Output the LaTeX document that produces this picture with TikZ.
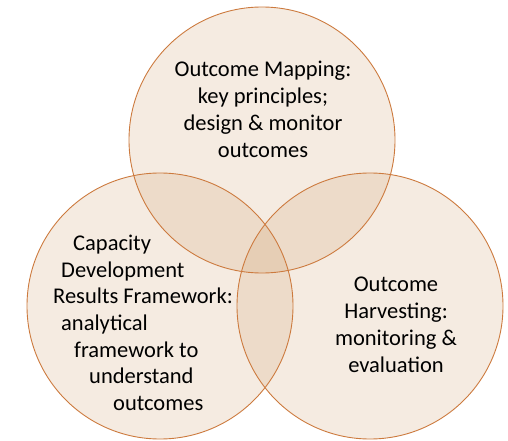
\documentclass[tikz,border=0pt]{standalone}
\usepackage{fontspec}
\setmainfont{Carlito}
\definecolor{vennfill}{RGB}{205,155,105}
\definecolor{vennline}{RGB}{204,122,62}
\begin{document}
\begin{tikzpicture}[x=1pt,y=-1pt,
    disc/.style={fill=vennfill, fill opacity=0.2},
    rim/.style={draw=vennline, line width=0.9pt},
    txt/.style={font=\fontsize{22.5}{27}\selectfont, align=center, inner sep=0pt},
    ltxt/.style={font=\fontsize{22.5}{27}\selectfont, anchor=base west, inner sep=0pt}]
    \useasboundingbox (0,0) rectangle (508,441);
    \fill[disc] (262,140) circle (133); %Cercle haut
    \fill[disc] (160,306) circle (133); %Cercle gauche
    \fill[disc] (370,306) circle (133); %Cercle droit
    \draw[rim] (262,140) circle (133);
    \draw[rim] (160,306) circle (133);
    \draw[rim] (370,306) circle (133);
    \node[txt] (mapping) at (263,109) {Outcome Mapping:\\key principles;\\design \& monitor\\outcomes};
    \node[txt] (harvest) at (396,325) {Outcome\\Harvesting:\\monitoring \&\\evaluation};
    \node[ltxt] (cap1) at (73,250) {Capacity};
    \node[ltxt] (cap2) at (61,277) {Development};
    \node[ltxt] (cap3) at (53,303) {Results Framework:};
    \node[ltxt] (cap4) at (61,330) {analytical};
    \node[ltxt] (cap5) at (74,357) {framework to};
    \node[ltxt] (cap6) at (89,383) {understand};
    \node[ltxt] (cap7) at (113,410) {outcomes};
\end{tikzpicture}
\end{document}
